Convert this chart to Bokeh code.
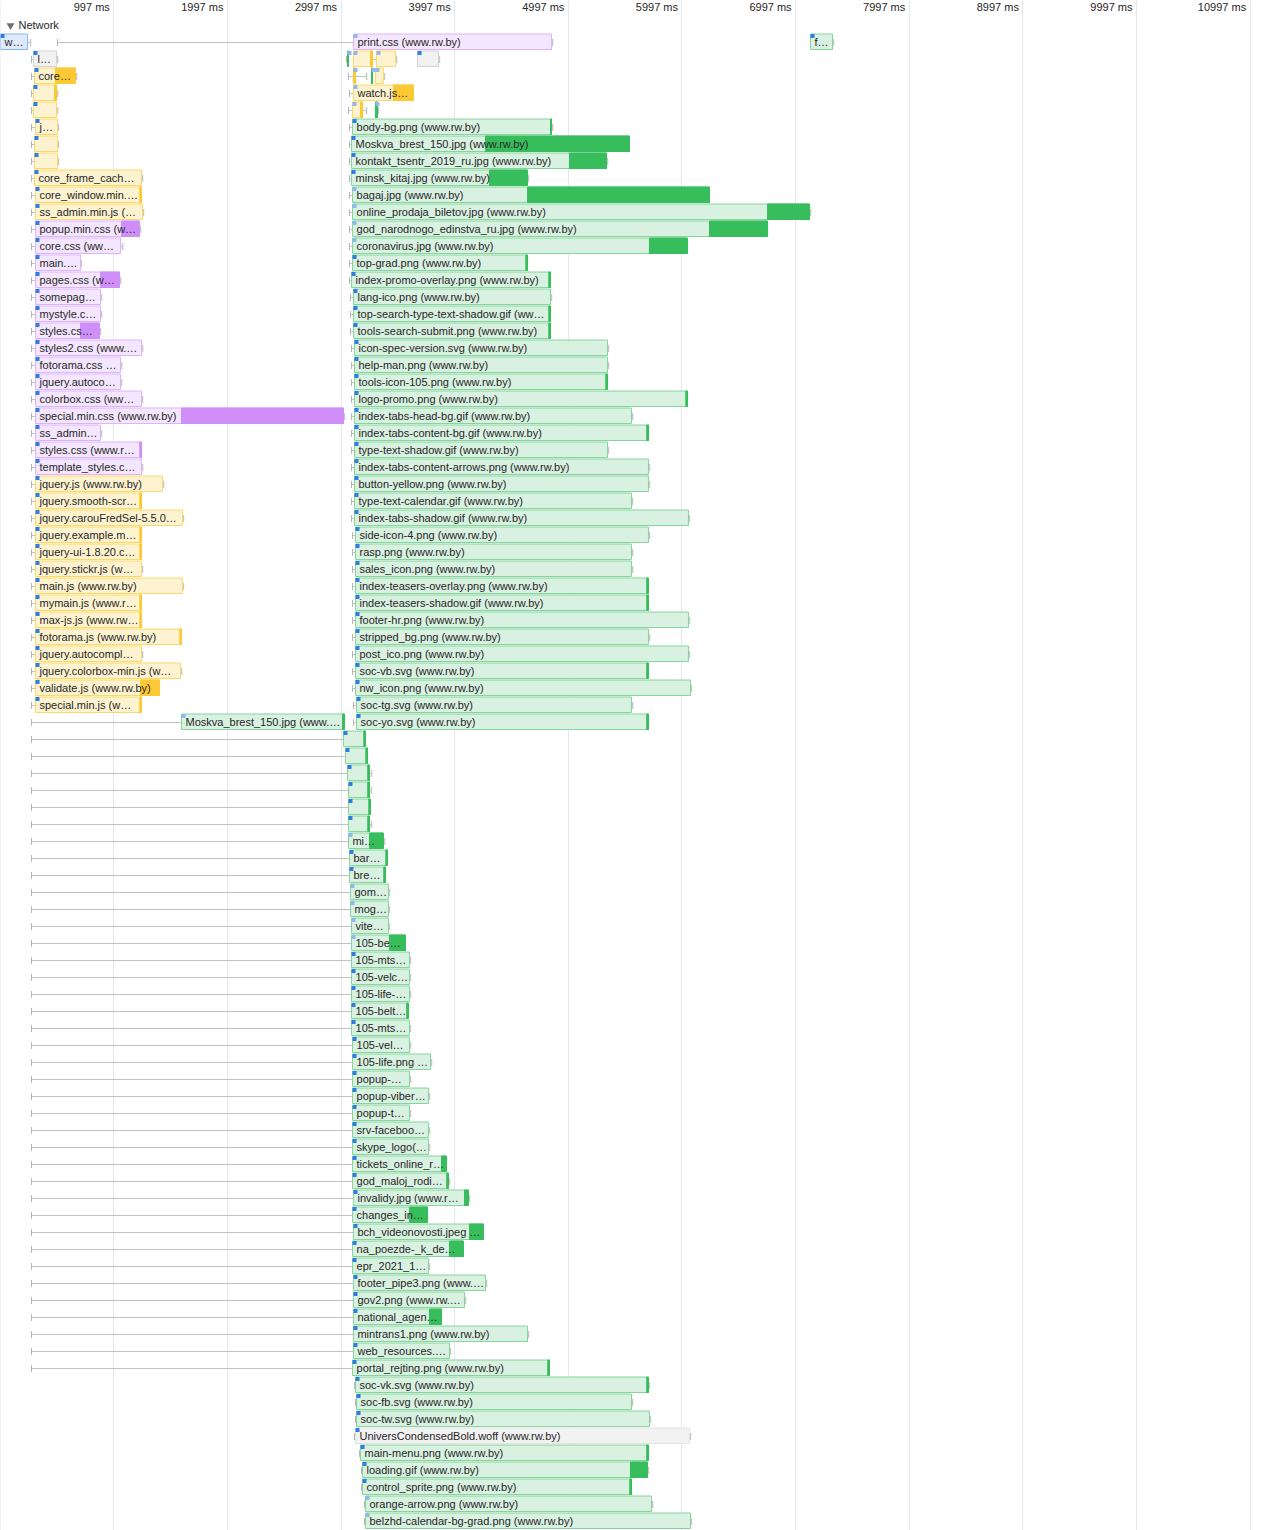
from bokeh.plotting import figure
from bokeh.models import Range1d, Grid, FixedTicker, ColumnDataSource
from bokeh.core.properties import value
from bokeh.embed import file_html
from bokeh.resources import INLINE

# ---------------- data ----------------
tick_ms = [997, 1997, 2997, 3997, 4997, 5997, 6997, 7997, 8997, 9997, 10997]
tick_labels = ["997 ms", "1997 ms", "2997 ms", "3997 ms", "4997 ms", "5997 ms",
               "6997 ms", "7997 ms", "8997 ms", "9997 ms", "10997 ms"]
grid_ms = [-3] + tick_ms
track_title = "Network"

names = [
    "w…", "print.css (www.rw.by)", "f…",
    "l…", "", "", "", "",
    "core…", "", "", "",
    "", "watch.js…",
    "", "", "",
    "j…", "body-bg.png (www.rw.by)",
    "", "Moskva_brest_150.jpg (www.rw.by)",
    "", "kontakt_tsentr_2019_ru.jpg (www.rw.by)",
    "core_frame_cach…", "minsk_kitaj.jpg (www.rw.by)",
    "core_window.min.…", "bagaj.jpg (www.rw.by)",
    "ss_admin.min.js (…", "online_prodaja_biletov.jpg (www.rw.by)",
    "popup.min.css (w…", "god_narodnogo_edinstva_ru.jpg (www.rw.by)",
    "core.css (ww…", "coronavirus.jpg (www.rw.by)",
    "main.…", "top-grad.png (www.rw.by)",
    "pages.css (w…", "index-promo-overlay.png (www.rw.by)",
    "somepag…", "lang-ico.png (www.rw.by)",
    "mystyle.c…", "top-search-type-text-shadow.gif (ww…",
    "styles.cs…", "tools-search-submit.png (www.rw.by)",
    "styles2.css (www.…", "icon-spec-version.svg (www.rw.by)",
    "fotorama.css …", "help-man.png (www.rw.by)",
    "jquery.autoco…", "tools-icon-105.png (www.rw.by)",
    "colorbox.css (ww…", "logo-promo.png (www.rw.by)",
    "special.min.css (www.rw.by)", "index-tabs-head-bg.gif (www.rw.by)",
    "ss_admin…", "index-tabs-content-bg.gif (www.rw.by)",
    "styles.css (www.r…", "type-text-shadow.gif (www.rw.by)",
    "template_styles.c…", "index-tabs-content-arrows.png (www.rw.by)",
    "jquery.js (www.rw.by)", "button-yellow.png (www.rw.by)",
    "jquery.smooth-scr…", "type-text-calendar.gif (www.rw.by)",
    "jquery.carouFredSel-5.5.0…", "index-tabs-shadow.gif (www.rw.by)",
    "jquery.example.m…", "side-icon-4.png (www.rw.by)",
    "jquery-ui-1.8.20.c…", "rasp.png (www.rw.by)",
    "jquery.stickr.js (w…", "sales_icon.png (www.rw.by)",
    "main.js (www.rw.by)", "index-teasers-overlay.png (www.rw.by)",
    "mymain.js (www.r…", "index-teasers-shadow.gif (www.rw.by)",
    "max-js.js (www.rw…", "footer-hr.png (www.rw.by)",
    "fotorama.js (www.rw.by)", "stripped_bg.png (www.rw.by)",
    "jquery.autocompl…", "post_ico.png (www.rw.by)",
    "jquery.colorbox-min.js (w…", "soc-vb.svg (www.rw.by)",
    "validate.js (www.rw.by)", "nw_icon.png (www.rw.by)",
    "special.min.js (w…", "soc-tg.svg (www.rw.by)",
    "Moskva_brest_150.jpg (www.…", "soc-yo.svg (www.rw.by)",
    "", "", "", "", "", "", "mi…", "bar…", "bre…", "gom…", "mog…", "vite…",
    "105-be…", "105-mts…", "105-velc…", "105-life-…", "105-belt…", "105-mts…",
    "105-vel…", "105-life.png …",
    "popup-…", "popup-viber…", "popup-t…", "srv-faceboo…", "skype_logo(…",
    "tickets_online_r…", "god_maloj_rodi…", "invalidy.jpg (www.r…", "changes_in…",
    "bch_videonovosti.jpeg …", "na_poezde-_k_de…", "epr_2021_1…", "footer_pipe3.png (www.…",
    "gov2.png (www.rw.…", "national_agen…", "mintrans1.png (www.rw.by)", "web_resources.…",
    "portal_rejting.png (www.rw.by)",
    "soc-vk.svg (www.rw.by)", "soc-fb.svg (www.rw.by)", "soc-tw.svg (www.rw.by)",
    "UniversCondensedBold.woff (www.rw.by)", "main-menu.png (www.rw.by)",
    "loading.gif (www.rw.by)", "control_sprite.png (www.rw.by)",
    "orange-arrow.png (www.rw.by)", "belzhd-calendar-bg-grad.png (www.rw.by)",
]

rows = [0, 0, 0,
        1, 1, 1, 1, 1,
        2, 2, 2, 2,
        3, 3,
        4, 4, 4,
        5, 5, 6, 6, 7, 7, 8, 8, 9, 9, 10, 10, 11, 11, 12, 12, 13, 13, 14, 14,
        15, 15, 16, 16, 17, 17, 18, 18, 19, 19, 20, 20, 21, 21, 22, 22, 23, 23,
        24, 24, 25, 25, 26, 26, 27, 27, 28, 28, 29, 29, 30, 30, 31, 31, 32, 32,
        33, 33, 34, 34, 35, 35, 36, 36, 37, 37, 38, 38, 39, 39, 40, 40,
        41, 42, 43, 44, 45, 46, 47, 48, 49, 50, 51, 52, 53, 54, 55, 56, 57, 58,
        59, 60, 61, 62, 63, 64, 65, 66, 67, 68, 69, 70, 71, 72, 73, 74, 75, 76,
        77, 78, 79, 80, 81, 82, 83, 84, 85, 86, 87]

kinds = (["doc", "css", "img"] +
         ["other", "img", "js", "js", "other"] +
         ["js", "js", "img", "js"] +
         ["js", "js"] +
         ["js", "js", "img"] +
         ["js", "img"] * 6 +
         ["css", "img"] * 15 +
         ["js", "img"] * 14 +
         ["img", "img"] +
         ["img"] * 41 + ["font"] + ["img"] * 5)

prio = (["H", "L", "H"] +
        ["H", "L", "L", "L", "H"] +
        ["H", "L", "L", "L"] +
        ["H", "L"] +
        ["H", "L", "L"] +
        ["H", "H", "H", "H", "H", "H", "H", "H", "H", "L", "H", "L", "H", "L", "H", "L"] +
        ["H", "H"] * 27 +
        ["L", "H"] +
        ["H"] * 6 + ["L", "H", "H", "L", "L", "L", "L"] + ["H"] * 32 + ["L", "L"])

# times in ms: queued, request start, download start, finish, tail
queue_ms = [0, 502, 7128,
            273, 3045, 3106, 3309, 3670,
            273, 3062, 3265, 3300,
            273, 3071,
            273, 3062, 3300,
            273, 3071, 273, 3071, 273, 3071, 273, 3071, 273, 3071, 273, 3071,
            273, 3071, 273, 3071, 273, 3071, 273, 3071, 273, 3080, 273, 3080,
            273, 3080, 273, 3089, 273, 3089, 273, 3089, 273, 3089, 273, 3089,
            273, 3089, 273, 3089, 273, 3089, 273, 3089, 273, 3089, 273, 3089,
            273, 3098, 273, 3098, 273, 3098, 273, 3098, 273, 3098, 273, 3098,
            273, 3098, 273, 3098, 273, 3098, 273, 3098, 273, 3106, 273, 3106,
            273, 273, 273, 273, 273, 273, 273, 273, 273, 273, 273, 273,
            273, 273, 273, 273, 273, 273, 273, 273,
            273, 273, 273, 273, 273,
            273, 273, 273, 273, 273, 273, 273, 273, 273, 273, 273, 273, 273,
            3115, 3124, 3124, 3115, 3159, 3177, 3177, 3203, 3203]

start_ms = [0, 3106, 7128,
            290, 3054, 3106, 3309, 3670,
            299, 3106, 3265, 3300,
            290, 3106,
            290, 3098, 3300,
            308, 3098, 299, 3089, 299, 3089, 299, 3089, 308, 3098, 308, 3098,
            308, 3098, 308, 3098, 308, 3098, 308, 3089, 308, 3106, 308, 3106,
            308, 3106, 308, 3115, 308, 3115, 308, 3115, 308, 3115, 308, 3115,
            308, 3115, 308, 3115, 308, 3115, 308, 3115, 308, 3115, 308, 3115,
            308, 3124, 308, 3124, 308, 3124, 308, 3124, 308, 3124, 308, 3124,
            308, 3124, 308, 3124, 308, 3124, 308, 3124, 308, 3133, 1593, 3133,
            3018, 3036, 3054, 3062, 3062, 3062, 3062, 3071, 3071, 3080, 3080, 3089,
            3089, 3089, 3089, 3089, 3089, 3089, 3098, 3098,
            3098, 3098, 3098, 3098, 3098,
            3098, 3098, 3106, 3098, 3106, 3098, 3098, 3106, 3106, 3106, 3106, 3106, 3098,
            3124, 3133, 3133, 3124, 3168, 3186, 3186, 3212, 3212]

recv_ms = [238, 4849, 7322,
           493, 3054, 3256, 3476, 3854,
           484, 3106, 3265, 3370,
           475, 3458,
           493, 3168, 3300,
           502, 4840, 502, 4268, 502, 5007, 1241, 4303, 1226, 4638, 1250, 6750,
           1065, 6239, 1056, 5711, 704, 4623, 880, 4825, 880, 4840, 880, 4825,
           704, 4825, 1241, 5342, 1056, 5342, 1056, 5327, 1241, 6031, 1593, 5553,
           880, 5687, 1226, 5342, 1241, 5702, 1426, 5702, 1226, 5553, 1602, 6054,
           1226, 5702, 1226, 5553, 1241, 5553, 1602, 5687, 1226, 5687, 1226, 6054,
           1578, 5702, 1241, 6054, 1584, 5687, 1232, 6072, 1226, 5553, 3010, 5687,
           3197, 3215, 3232, 3232, 3241, 3232, 3247, 3391, 3373, 3414, 3414, 3414,
           3423, 3599, 3599, 3599, 3575, 3599, 3599, 3784,
           3599, 3766, 3599, 3766, 3766,
           3881, 3927, 4083, 3599, 4127, 3951, 3766, 4268, 4083, 3775, 4638, 3951, 4816,
           5687, 5553, 5711, 6063, 5687, 5544, 5538, 5729, 6072]

end_ms = [238, 4849, 7322,
          493, 3062, 3274, 3476, 3854,
          660, 3124, 3274, 3370,
          493, 3634,
          493, 3186, 3318,
          502, 4849, 502, 5535, 502, 5333, 1241, 4638, 1241, 6239, 1250, 7119,
          1223, 6750, 1056, 6046, 704, 4638, 1047, 4840, 880, 4840, 880, 4840,
          871, 4840, 1241, 5342, 1056, 5342, 1056, 5342, 1241, 6046, 3018, 5553,
          880, 5702, 1241, 5342, 1241, 5702, 1426, 5702, 1241, 5553, 1602, 6054,
          1241, 5702, 1241, 5553, 1241, 5553, 1602, 5702, 1241, 5702, 1241, 6054,
          1593, 5702, 1241, 6054, 1584, 5702, 1399, 6072, 1241, 5553, 3027, 5702,
          3212, 3230, 3247, 3247, 3256, 3247, 3370, 3406, 3388, 3414, 3414, 3414,
          3564, 3599, 3599, 3599, 3590, 3599, 3599, 3784,
          3599, 3766, 3599, 3766, 3766,
          3925, 3942, 4118, 3758, 4250, 4074, 3766, 4268, 4083, 3881, 4638, 3951, 4831,
          5702, 5553, 5711, 6063, 5702, 5694, 5553, 5729, 6072]

tail_ms = [264, 4858, 7330,
           502, 3062, 3309, 3485, 3863,
           669, 3221, 3274, 3379,
           502, 3634,
           502, 3221, 3326,
           510, 4858, 510, 5535, 510, 5342, 1250, 4646, 1241, 6239, 1258, 7128,
           1232, 6750, 1074, 6046, 712, 4638, 1056, 4840, 889, 4849, 889, 4840,
           880, 4840, 1250, 5350, 1065, 5350, 1065, 5342, 1250, 6046, 3027, 5562,
           889, 5702, 1241, 5350, 1250, 5711, 1434, 5711, 1241, 5562, 1610, 6063,
           1241, 5711, 1241, 5562, 1250, 5562, 1610, 5702, 1241, 5702, 1241, 6063,
           1593, 5711, 1250, 6063, 1593, 5702, 1399, 6080, 1241, 5562, 3027, 5702,
           3212, 3230, 3265, 3265, 3256, 3265, 3379, 3406, 3388, 3423, 3423, 3423,
           3564, 3608, 3608, 3608, 3590, 3608, 3608, 3793,
           3608, 3775, 3608, 3775, 3775,
           3925, 3951, 4127, 3758, 4250, 4074, 3775, 4277, 4092, 3881, 4646, 3960, 4831,
           5711, 5562, 5720, 6072, 5702, 5702, 5553, 5738, 6080]

n = len(names)
assert all(len(a) == n for a in [rows, kinds, prio, queue_ms, start_ms, recv_ms, end_ms, tail_ms]), \
    [len(a) for a in [names, rows, kinds, prio, queue_ms, start_ms, recv_ms, end_ms, tail_ms]]

# ---------------- style ----------------
W, H = 1280, 1530
ROW_PX = 17
FIRST_ROW_PX = 42
MS_PER_PX = 8.8
X_END = W * MS_PER_PX
Y_TOP = -FIRST_ROW_PX / ROW_PX
Y_BOT = (H - FIRST_ROW_PX) / ROW_PX
BAR_UP = 8.5 / ROW_PX
BAR_DN = 7.0 / ROW_PX
TICK_H = 3.5 / ROW_PX

fills = {"doc": "#dfe9fb", "css": "#f4e6fe", "js": "#fef3d0", "img": "#d8f1e0",
         "font": "#f2f2f2", "other": "#f1f1f1"}
lines = {"doc": "#8ab4f8", "css": "#dcb4fb", "js": "#fbd969", "img": "#85d59c",
         "font": "#e3e3e3", "other": "#d4d4d4"}
darks = {"doc": "#6ea0f2", "css": "#cf8ef8", "js": "#fcc934", "img": "#38bd5d",
         "font": "#cfcfcf", "other": "#bdbdbd"}
prio_col = {"H": "#2f7de1", "L": "#8fb9ee"}
TEXT_COL = "#262626"

p = figure(width=W, height=H, output_backend="svg", toolbar_location=None,
           x_range=Range1d(0, X_END), y_range=Range1d(Y_BOT, Y_TOP),
           x_axis_type=None, y_axis_type=None, min_border=0,
           background_fill_color="white", border_fill_color="white")
p.outline_line_color = None
p.add_layout(Grid(dimension=0, ticker=FixedTicker(ticks=grid_ms),
                  grid_line_color="#e2e8f1", grid_line_width=1))

# whiskers
wq = [i for i in range(n) if queue_ms[i] < start_ms[i]]
p.segment(x0=[queue_ms[i] for i in wq], x1=[start_ms[i] for i in wq],
          y0=[rows[i] for i in wq], y1=[rows[i] for i in wq],
          line_color="#c2c2c2", line_width=1)
p.segment(x0=[queue_ms[i] for i in wq], x1=[queue_ms[i] for i in wq],
          y0=[rows[i] - TICK_H for i in wq], y1=[rows[i] + TICK_H for i in wq],
          line_color="#b5b5b5", line_width=1)
wt = [i for i in range(n) if tail_ms[i] > end_ms[i]]
p.segment(x0=[end_ms[i] for i in wt], x1=[tail_ms[i] for i in wt],
          y0=[rows[i] for i in wt], y1=[rows[i] for i in wt],
          line_color="#c2c2c2", line_width=1)
p.segment(x0=[tail_ms[i] for i in wt], x1=[tail_ms[i] for i in wt],
          y0=[rows[i] - TICK_H for i in wt], y1=[rows[i] + TICK_H for i in wt],
          line_color="#c8c8c8", line_width=1.5)

# bars
src = ColumnDataSource(dict(
    left=start_ms, right=end_ms, recv=recv_ms,
    top=[r - BAR_UP for r in rows], bottom=[r + BAR_DN for r in rows],
    fill=[fills[k] for k in kinds], line=[lines[k] for k in kinds],
    dark=[darks[k] for k in kinds]))
p.quad(left="left", right="right", top="top", bottom="bottom", source=src,
       fill_color="fill", line_color="line", line_width=1)
dk = [i for i in range(n) if recv_ms[i] < end_ms[i]]
p.quad(left=[recv_ms[i] for i in dk], right=[end_ms[i] for i in dk],
       top=[rows[i] - BAR_UP for i in dk], bottom=[rows[i] + BAR_DN for i in dk],
       fill_color=[darks[kinds[i]] for i in dk], line_color=[darks[kinds[i]] for i in dk],
       line_width=1)

# priority squares
p.quad(left=[s for s in start_ms], right=[s + 4 * MS_PER_PX for s in start_ms],
       top=[r - BAR_UP for r in rows], bottom=[r - BAR_UP + 4 / ROW_PX for r in rows],
       fill_color=[prio_col[q] for q in prio], line_color=None)

# labels
lab = [i for i in range(n) if names[i]]
p.text(x=[start_ms[i] for i in lab], y=[rows[i] for i in lab],
       text=[names[i] for i in lab], x_offset=4, y_offset=-1,
       text_font=value("Liberation Sans"), text_font_size="11px",
       text_color=TEXT_COL, text_baseline="middle", text_align="left")

# ruler labels
p.text(x=tick_ms, y=[Y_TOP + 7 / ROW_PX] * len(tick_ms), text=tick_labels,
       x_offset=-4, y_offset=-1, text_font=value("Liberation Sans"), text_font_size="11px",
       text_color=TEXT_COL, text_baseline="middle", text_align="right")

# track header
p.scatter(x=[10 * MS_PER_PX], y=[Y_TOP + 25 / ROW_PX], marker="inverted_triangle",
          size=8, fill_color="#707070", line_color=None)
p.text(x=[18 * MS_PER_PX], y=[Y_TOP + 25 / ROW_PX], text=[track_title], y_offset=-1,
       text_font=value("Liberation Sans"), text_font_size="11px",
       text_color=TEXT_COL, text_baseline="middle", text_align="left")

open("out.html", "w").write(file_html(p, INLINE))
